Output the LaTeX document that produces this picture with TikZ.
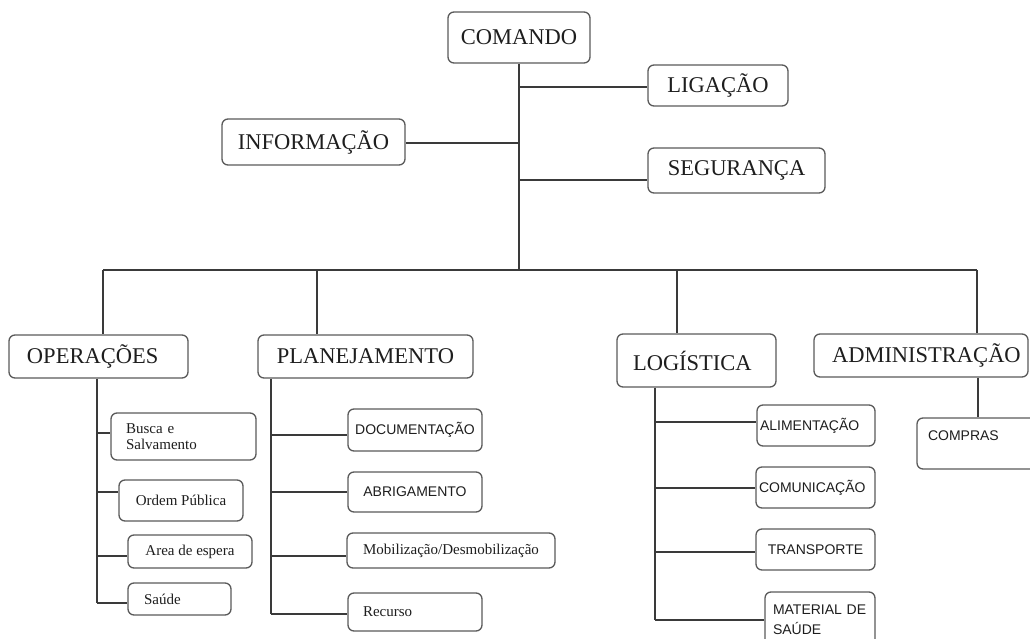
\documentclass[tikz,border=0pt]{standalone}
\usepackage{fontspec}
\newfontfamily\myserif{Liberation Serif}
\newfontfamily\mysans{Liberation Sans}
\definecolor{boxline}{HTML}{5A5A5A}
\definecolor{conn}{HTML}{3A3A3A}
\definecolor{txt}{HTML}{1E1E1E}
\begin{document}
\begin{tikzpicture}[x=1pt,y=-1pt,
  box/.style={draw=boxline, rounded corners=6pt, line width=1.3pt, fill=white, inner sep=0pt, text=txt},
  mainbox/.style={box, font=\myserif\fontsize{22.5}{24}\selectfont},
  subserif/.style={box, font=\myserif\fontsize{15}{16.5}\selectfont},
  subsans/.style={box, font=\mysans\fontsize{14}{20}\selectfont},
  link/.style={draw=conn, line width=1.3pt}]
\clip (0,0) rectangle (1030,639);
\useasboundingbox (0,0) rectangle (1030,639);

% top level
\node[mainbox, minimum width=142pt, minimum height=51pt] (com) at (519,37.5) {COMANDO};
\node[mainbox, minimum width=140pt, minimum height=41pt] (lig) at (718,85.5) {LIGAÇÃO};
\node[mainbox, minimum width=183pt, minimum height=46pt] (inf) at (313.5,142) {INFORMAÇÃO};
\node[mainbox, minimum width=177pt, minimum height=45pt] (seg) at (736.5,170.5) {SEGURANÇA};

\node[mainbox, minimum width=179pt, minimum height=43pt, text width=143pt, inner xsep=18pt, align=left] (ope) at (98.5,356.5) {OPERAÇÕES};
\node[mainbox, minimum width=215pt, minimum height=43pt] (pla) at (365.5,356.5) {PLANEJAMENTO};
\node[mainbox, minimum width=159pt, minimum height=53pt, text width=127pt, inner xsep=16pt, align=left] (log) at (696.5,360.5) {LOGÍSTICA};
\node[mainbox, minimum width=214pt, minimum height=43pt, text width=178pt, inner xsep=18pt, align=left] (adm) at (921,355.5) {ADMINISTRAÇÃO};

% operações children
\node[subserif, minimum width=145pt, minimum height=47pt, text width=115pt, inner xsep=15pt, align=left] (bus) at (183.5,436.5) {Busca e\\Salvamento};
\node[subserif, minimum width=124pt, minimum height=41pt] (ord) at (181,500.5) {Ordem Pública};
\node[subserif, minimum width=124pt, minimum height=33pt] (are) at (190,551.5) {Area de espera};
\node[subserif, minimum width=103pt, minimum height=32pt, text width=71pt, inner xsep=16pt, align=left] (sau) at (179.5,599) {Saúde};

% planejamento children
\node[subsans, minimum width=134pt, minimum height=42pt] (doc) at (415,430) {DOCUMENTAÇÃO};
\node[subsans, minimum width=134pt, minimum height=40pt] (abr) at (415,492) {ABRIGAMENTO};
\node[subserif, minimum width=208pt, minimum height=35pt] (mob) at (451,550.5) {Mobilização/Desmobilização};
\node[subserif, minimum width=134pt, minimum height=38pt, text width=104pt, inner xsep=15pt, align=left] (rec) at (415,612) {Recurso};

% logística children
\node[subsans, minimum width=118pt, minimum height=41pt, text width=112pt, inner xsep=3pt, align=left] (ali) at (816,425.5) {ALIMENTAÇÃO};
\node[subsans, minimum width=119pt, minimum height=41pt, text width=113pt, inner xsep=3pt, align=left] (cmn) at (815.5,487.5) {COMUNICAÇÃO};
\node[subsans, minimum width=119pt, minimum height=41pt] (tra) at (815.5,549.5) {TRANSPORTE};
\node[subsans, minimum width=110pt, minimum height=56pt, text width=94pt, inner xsep=8pt, align=left] (mat) at (820,620) {MATERIAL DE\\SAÚDE};

% administração child
\node[subsans, minimum width=128pt, minimum height=51pt, text width=106pt, inner xsep=11pt, align=left, text depth=15pt] (cmp) at (981,443.5) {COMPRAS};

% trunk and branches
\coordinate (jLig) at (519,87);
\coordinate (jInf) at (519,143);
\coordinate (jSeg) at (519,180);
\coordinate (busL) at (103,270);
\coordinate (busR) at (977,270);
\coordinate (dPla) at (317,270);
\coordinate (dLog) at (677,270);
\draw[link] (com.south) -- (com.south |- busL);
\draw[link] (jLig) -- (jLig -| lig.west);
\draw[link] (jInf) -- (jInf -| inf.east);
\draw[link] (jSeg) -- (jSeg -| seg.west);
\draw[link] (busL) -- (busR);
\draw[link] (busL) -- (busL |- ope.north);
\draw[link] (dPla) -- (dPla |- pla.north);
\draw[link] (dLog) -- (dLog |- log.north);
\draw[link] (busR) -- (busR |- adm.north);

% operações branches
\coordinate (o1) at (97,433);
\coordinate (o2) at (97,492);
\coordinate (o3) at (97,556);
\coordinate (o4) at (97,603);
\draw[link] (o1 |- ope.south) -- (o4);
\draw[link] (o1) -- (o1 -| bus.west);
\draw[link] (o2) -- (o2 -| ord.west);
\draw[link] (o3) -- (o3 -| are.west);
\draw[link] (o4) -- (o4 -| sau.west);

% planejamento branches
\coordinate (p1) at (271,435);
\coordinate (p2) at (271,492);
\coordinate (p3) at (271,556);
\coordinate (p4) at (271,614);
\draw[link] (p1 |- pla.south) -- (p4);
\draw[link] (p1) -- (p1 -| doc.west);
\draw[link] (p2) -- (p2 -| abr.west);
\draw[link] (p3) -- (p3 -| mob.west);
\draw[link] (p4) -- (p4 -| rec.west);

% logística branches
\coordinate (l1) at (655,422);
\coordinate (l2) at (655,488);
\coordinate (l3) at (655,552);
\coordinate (l4) at (655,620);
\draw[link] (l1 |- log.south) -- (l4);
\draw[link] (l1) -- (l1 -| ali.west);
\draw[link] (l2) -- (l2 -| cmn.west);
\draw[link] (l3) -- (l3 -| tra.west);
\draw[link] (l4) -- (l4 -| mat.west);

% administração branch
\coordinate (aX) at (978,400);
\draw[link] (aX |- adm.south) -- (aX |- cmp.north);
\end{tikzpicture}
\end{document}
